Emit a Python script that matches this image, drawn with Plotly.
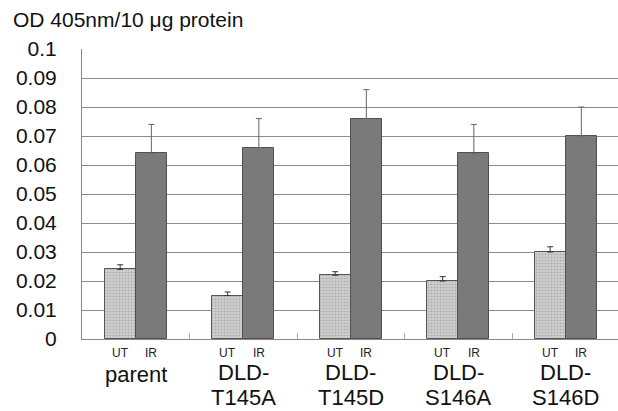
import plotly.graph_objects as go

categories = ["parent", "DLD-<br>T145A", "DLD-<br>T145D", "DLD-<br>S146A", "DLD-<br>S146D"]
cat_line1 = ["parent", "DLD-", "DLD-", "DLD-", "DLD-"]
cat_line2 = ["", "T145A", "T145D", "S146A", "S146D"]
ut_values = [0.024, 0.015, 0.022, 0.020, 0.030]
ut_errors = [0.0016, 0.0012, 0.0012, 0.0015, 0.0018]
ir_values = [0.064, 0.066, 0.076, 0.064, 0.070]
ir_errors = [0.010, 0.010, 0.010, 0.010, 0.010]
y_ticks = [0, 0.01, 0.02, 0.03, 0.04, 0.05, 0.06, 0.07, 0.08, 0.09, 0.1]
y_tick_text = ["0", "0.01", "0.02", "0.03", "0.04", "0.05", "0.06", "0.07", "0.08", "0.09", "0.1"]
series_labels = ["UT", "IR"]
y_title = "OD 405nm/10 \u03bcg protein"

FONT = "Liberation Sans, Arial, sans-serif"
bw = 0.29
idx = list(range(len(categories)))
ut_x = [i + 0.5 - bw / 2 for i in idx]
ir_x = [i + 0.5 + bw / 2 for i in idx]

fig = go.Figure()
fig.add_trace(go.Bar(
    x=ut_x, y=ut_values, width=bw, name="UT",
    marker=dict(color="#cfcfcf",
                line=dict(color="#555555", width=1),
                pattern=dict(shape=".", fgcolor="#8a8a8a", bgcolor="#d2d2d2", size=3, solidity=0.4)),
    error_y=dict(type="data", array=ut_errors, arrayminus=[0]*5, symmetric=False,
                 color="#333333", thickness=1, width=3),
))
fig.add_trace(go.Bar(
    x=ir_x, y=ir_values, width=bw, name="IR",
    marker=dict(color="#7a7a7a", line=dict(color="#505050", width=1)),
    error_y=dict(type="data", array=ir_errors, arrayminus=[0]*5, symmetric=False,
                 color="#666666", thickness=1, width=3),
))

annotations = []
for i in idx:
    annotations.append(dict(x=ut_x[i], y=0, xref="x", yref="paper", text=series_labels[0],
                            showarrow=False, yanchor="middle", yshift=-14,
                            font=dict(family=FONT, size=12, color="#222")))
    annotations.append(dict(x=ir_x[i], y=0, xref="x", yref="paper", text=series_labels[1],
                            showarrow=False, yanchor="middle", yshift=-14,
                            font=dict(family=FONT, size=12, color="#222")))
    annotations.append(dict(x=i + 0.5, y=0, xref="x", yref="paper", text=cat_line1[i],
                            showarrow=False, yanchor="middle",
                            yshift=-35 if not cat_line2[i] else -33,
                            font=dict(family=FONT, size=22, color="#111")))
    if cat_line2[i]:
        annotations.append(dict(x=i + 0.5, y=0, xref="x", yref="paper", text=cat_line2[i],
                                showarrow=False, yanchor="middle", yshift=-58,
                                font=dict(family=FONT, size=22, color="#111")))
annotations.append(dict(x=0, y=1, xref="paper", yref="paper", text=y_title,
                        showarrow=False, xanchor="left", yanchor="middle",
                        xshift=-71, yshift=30,
                        font=dict(family=FONT, size=21, color="#111")))

fig.update_layout(
    width=618, height=411,
    margin=dict(l=82, r=0, t=49, b=72, autoexpand=False),
    paper_bgcolor="white", plot_bgcolor="white",
    showlegend=False,
    bargap=0,
    annotations=annotations,
    xaxis=dict(range=[0, 4.986], tickvals=[1, 2, 3, 4], showticklabels=False, automargin=False,
               ticks="inside", ticklen=6, tickcolor="#aaaaaa", tickwidth=1,
               showgrid=False, zeroline=False, showline=True, linecolor="#888888", linewidth=1),
    yaxis=dict(range=[0, 0.1], tickvals=y_ticks, ticktext=y_tick_text, automargin=False,
               tickfont=dict(family=FONT, size=21, color="#111"),
               ticks="", ticklabelstandoff=20,
               showgrid=True, gridcolor="#8c8c8c", gridwidth=1,
               zeroline=False, showline=True, linecolor="#888888", linewidth=1),
)

fig.write_html("out.html", config={"displayModeBar": False},
               post_script="document.body.style.margin='0';document.body.style.overflow='hidden';")
